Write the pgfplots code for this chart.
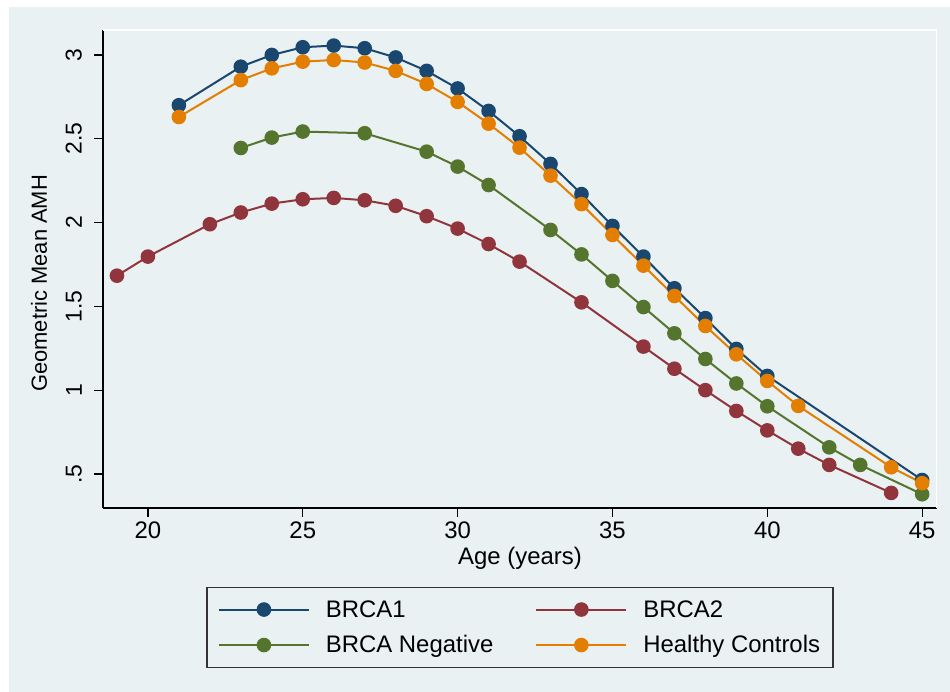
\documentclass[border=0pt]{standalone}
\usepackage{pgfplots}
\pgfplotsset{compat=1.18}
\usepackage{fontspec}
\setmainfont{Liberation Sans}
\definecolor{bg}{RGB}{233,241,243}
\definecolor{cnavy}{RGB}{26,71,111}
\definecolor{cmaroon}{RGB}{144,53,59}
\definecolor{cgreen}{RGB}{85,117,47}
\definecolor{corange}{RGB}{227,126,0}
\begin{document}
\begin{tikzpicture}[x=1bp,y=1bp]
\useasboundingbox (0,0) rectangle (950,692);
\fill[white] (0,0) rectangle (950,692);
\fill[bg] (9,0) rectangle (950,685);
\begin{axis}[
  at={(103bp,184bp)}, anchor=south west,
  scale only axis, width=834bp, height=478bp,
  xmin=18.55, xmax=45.48, ymin=0.297, ymax=3.149,
  axis x line*=bottom, axis y line*=left,
  axis line style={black, line width=1.3bp, -},
  axis background/.style={fill=bg},
  xtick={20,25,30,35,40,45},
  ytick={0.5,1,1.5,2,2.5,3},
  yticklabels={.5,1,1.5,2,2.5,3},
  tick align=outside, major tick length=9bp,
  tick style={black, line width=1.2bp},
  /pgf/number format/assume math mode=true,
  xticklabel style={font=\fontsize{24}{28}\selectfont, inner sep=2bp, yshift=-3bp},
  yticklabel style={font=\fontsize{23}{26}\selectfont, rotate=90, anchor=south, inner sep=2bp, yshift=10bp},
  xlabel={Age (years)},
  ylabel={Geometric Mean AMH},
  xlabel style={font=\fontsize{24}{28}\selectfont, inner sep=0pt, yshift=-6bp},
  every axis y label/.style={at={(axis description cs:-0.0767,0.47)}, rotate=90, anchor=center,
    font=\fontsize{22}{26}\selectfont, inner sep=0pt},
  every axis plot/.append style={line width=2bp, mark=*, mark size=6.3bp, mark options={solid}},
  legend style={at={(0.5,-0.165)}, anchor=north, legend columns=2,
    draw=black!80, fill=bg, line width=1.2bp,
    font=\fontsize{24}{28}\selectfont,
    inner xsep=11bp, inner ysep=11bp, row sep=13bp,
    /tikz/every odd column/.append style={column sep=14bp},
    /tikz/every even column/.append style={column sep=40bp}},
  legend cell align=left,
  legend image code/.code={\draw[mark repeat=2,mark phase=2,#1] plot coordinates {(0bp,0bp) (45bp,0bp) (90bp,0bp)};},
]
\addplot[color=cnavy] coordinates {
(21,2.70) (23,2.93) (24,3.00) (25,3.046) (26,3.056) (27,3.04) (28,2.985) (29,2.905) (30,2.80) (31,2.666) (32,2.515) (33,2.35) (34,2.17) (35,1.98) (36,1.797) (37,1.608) (38,1.43) (39,1.246) (40,1.085) (45,0.464)};
\addlegendentry{BRCA1}
\addplot[color=cmaroon] coordinates {
(19,1.683) (20,1.797) (22,1.99) (23,2.06) (24,2.113) (25,2.139) (26,2.147) (27,2.133) (28,2.10) (29,2.038) (30,1.964) (31,1.872) (32,1.767) (34,1.524) (36,1.26) (37,1.128) (38,1.0) (39,0.876) (40,0.76) (41,0.651) (42,0.554) (44,0.387)};
\addlegendentry{BRCA2}
\addplot[color=cgreen] coordinates {
(23,2.445) (24,2.507) (25,2.543) (27,2.533) (29,2.423) (30,2.334) (31,2.224) (33,1.956) (34,1.81) (35,1.652) (36,1.496) (37,1.339) (38,1.186) (39,1.04) (40,0.904) (42,0.659) (43,0.554) (45,0.379)};
\addlegendentry{BRCA Negative}
\addplot[color=corange] coordinates {
(21,2.63) (23,2.85) (24,2.92) (25,2.96) (26,2.97) (27,2.955) (28,2.905) (29,2.827) (30,2.72) (31,2.59) (32,2.447) (33,2.28) (34,2.11) (35,1.926) (36,1.743) (37,1.562) (38,1.383) (39,1.214) (40,1.055) (41,0.906) (44,0.54) (45,0.445)};
\addlegendentry{Healthy Controls}
\draw[white, line width=1.5bp] (rel axis cs:0,1) -- (rel axis cs:1,1) -- (rel axis cs:1,0);
\end{axis}
\end{tikzpicture}
\end{document}
